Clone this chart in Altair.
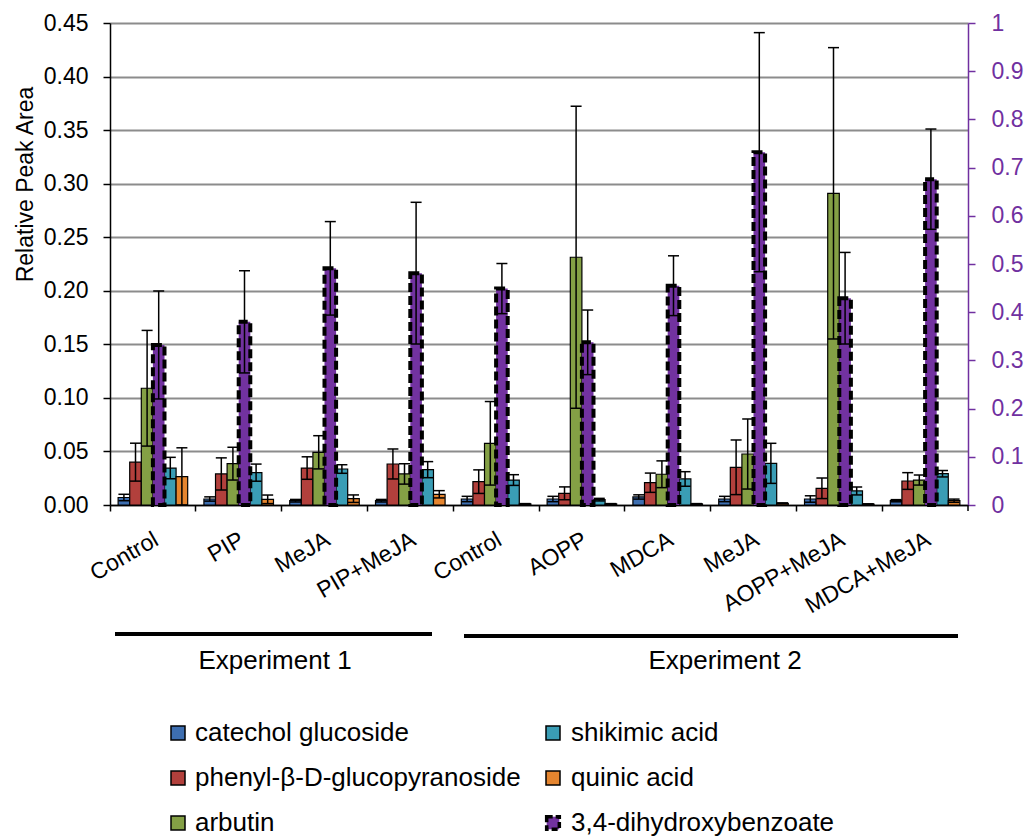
import json
import altair as alt
import pandas as pd

# ---------------- data ----------------
group_labels = ["Control", "PIP", "MeJA", "PIP+MeJA", "Control", "AOPP",
                "MDCA", "MeJA", "AOPP+MeJA", "MDCA+MeJA"]
group_keys = [f"g{i + 1}" for i in range(len(group_labels))]

s_cat = "catechol glucoside"
s_phe = "phenyl-β-D-glucopyranoside"
s_arb = "arbutin"
s_dhb = "3,4-dihydroxybenzoate"
s_shi = "shikimic acid"
s_qui = "quinic acid"

catechol = [0.007, 0.0056, 0.004, 0.004, 0.0056, 0.0056, 0.0075, 0.0056, 0.0056, 0.004]
catechol_err = [0.003, 0.002, 0.0012, 0.0012, 0.0025, 0.0025, 0.002, 0.0025, 0.003, 0.001]
phenyl = [0.040, 0.029, 0.0345, 0.0383, 0.0218, 0.0109, 0.0208, 0.0352, 0.0156, 0.0224]
phenyl_err = [0.0177, 0.015, 0.0105, 0.014, 0.011, 0.006, 0.009, 0.0255, 0.0096, 0.0078]
arbutin = [0.109, 0.0386, 0.0492, 0.029, 0.0576, 0.2313, 0.0287, 0.0476, 0.291, 0.0233]
arbutin_err = [0.054, 0.0153, 0.0155, 0.0095, 0.039, 0.141, 0.0125, 0.0327, 0.136, 0.0047]
dhb = [0.332, 0.380, 0.491, 0.481, 0.449, 0.3375, 0.455, 0.732, 0.429, 0.676]
dhb_err = [0.112, 0.106, 0.097, 0.147, 0.052, 0.067, 0.062, 0.248, 0.095, 0.104]
shikimic = [0.0345, 0.0302, 0.0336, 0.033, 0.0233, 0.005, 0.0243, 0.0389, 0.0131, 0.0292]
shikimic_err = [0.010, 0.008, 0.004, 0.0075, 0.005, 0.0012, 0.0068, 0.0187, 0.0037, 0.003]
quinic = [0.0264, 0.0053, 0.0059, 0.010, 0.001, 0.001, 0.001, 0.0015, 0.0008, 0.004]
quinic_err = [0.027, 0.004, 0.0035, 0.0034, 0.0003, 0.0003, 0.0003, 0.0005, 0.0003, 0.0015]

left_ticks = [0.0, 0.05, 0.10, 0.15, 0.20, 0.25, 0.30, 0.35, 0.40, 0.45]
right_ticks = [0.0, 0.1, 0.2, 0.3, 0.4, 0.5, 0.6, 0.7, 0.8, 0.9, 1.0]

# bar order inside each group
series_order = [s_cat, s_phe, s_arb, s_dhb, s_shi, s_qui]
series_colors = ["#3D6EB0", "#B2403C", "#84A045", "#7232A0", "#3A9DB5", "#E5852F"]
# legend layout: two columns, filled top to bottom
legend_order = [s_cat, s_phe, s_arb, s_shi, s_qui, s_dhb]

PURPLE = "#7030A0"
FONT = "Liberation Sans"

rows = []
for name, vals, errs in [(s_cat, catechol, catechol_err), (s_phe, phenyl, phenyl_err),
                         (s_arb, arbutin, arbutin_err), (s_dhb, dhb, dhb_err),
                         (s_shi, shikimic, shikimic_err), (s_qui, quinic, quinic_err)]:
    for k, v, e in zip(group_keys, vals, errs):
        rows.append({"group": k, "series": name, "value": v,
                     "lo": max(v - e, 0), "hi": v + e})
df = pd.DataFrame(rows)
left_df = df[df["series"] != s_dhb]
right_df = df[df["series"] == s_dhb]

# ---------------- encodings ----------------
label_expr = f"{json.dumps(group_labels)}[indexof({json.dumps(group_keys)}, datum.value)]"

x_enc = alt.X("group:N", title=None,
              scale=alt.Scale(domain=group_keys, paddingInner=0, paddingOuter=0),
              axis=alt.Axis(bandPosition=0, labelExpr=label_expr, labelAngle=330,
                            labelAlign="right", labelBaseline="top", labelOffset=-2,
                            labelPadding=17, labelFontSize=23, labelFont=FONT,
                            labelColor="black", labelOverlap=False, labelBound=False,
                            tickColor="black", tickSize=6, tickWidth=1.5,
                            domainColor="black", domainWidth=1.5, grid=False))
xo_enc = alt.XOffset("series:N",
                     scale=alt.Scale(domain=series_order, paddingInner=0, paddingOuter=0.7))
color_scale = alt.Scale(domain=series_order, range=series_colors)
color_enc = alt.Color("series:N", scale=color_scale, legend=None)

left_scale = alt.Scale(domain=[0, 0.45], nice=False, zero=True)
right_scale = alt.Scale(domain=[0, 1], nice=False, zero=True)

left_axis = alt.Axis(values=left_ticks, format=".2f", title="Relative Peak Area",
                     titleFontSize=23, titleFont=FONT, titleFontWeight="normal",
                     titleColor="black", titleAngle=270, titleX=-85, titleY=161,
                     titleAlign="center", titleBaseline="middle",
                     labelFontSize=23, labelFont=FONT, labelColor="black", labelPadding=15,
                     tickSize=7, tickColor="black", tickWidth=1.5,
                     domainColor="black", domainWidth=1.5,
                     grid=True, gridColor="#8c8c8c", gridWidth=2)
right_axis = alt.Axis(values=right_ticks, format="~g", title=None, orient="right",
                      labelFontSize=23, labelFont=FONT, labelColor=PURPLE, labelPadding=16,
                      tickSize=7, tickColor=PURPLE, tickWidth=1.5,
                      domainColor=PURPLE, domainWidth=1.5, grid=False)


def layer_for(data, scale, axis, bar_kwargs):
    title = "Relative Peak Area" if axis is left_axis else ""
    y_val = alt.Y("value:Q", scale=scale, axis=axis, title=title)
    bars = alt.Chart(data).mark_bar(**bar_kwargs).encode(
        x=x_enc, xOffset=xo_enc, y=y_val, color=color_enc)
    err = alt.Chart(data).mark_rule(color="black", strokeWidth=1.5).encode(
        x=x_enc, xOffset=xo_enc,
        y=alt.Y("lo:Q", scale=scale, axis=axis, title=title), y2="hi:Q")
    cap_hi = alt.Chart(data).mark_tick(color="black", thickness=1.5, size=11, opacity=1).encode(
        x=x_enc, xOffset=xo_enc, y=alt.Y("hi:Q", scale=scale, axis=axis, title=title))
    cap_lo = alt.Chart(data).mark_tick(color="black", thickness=1.5, size=11, opacity=1).encode(
        x=x_enc, xOffset=xo_enc, y=alt.Y("lo:Q", scale=scale, axis=axis, title=title))
    return alt.layer(bars, err, cap_hi, cap_lo)


left_layer = layer_for(left_df, left_scale, left_axis,
                       dict(stroke="black", strokeWidth=1.2, opacity=1))
right_layer = layer_for(right_df, right_scale, right_axis,
                        dict(stroke="black", strokeWidth=4, strokeDash=[9, 4], opacity=1))

# ---------------- legend (two columns, drawn as marks) ----------------
legend_df = pd.DataFrame({
    "series": legend_order,
    "idx": list(range(len(legend_order))),
})
legend_base = alt.Chart(legend_df).transform_calculate(
    col="floor(datum.idx / 3)", row="datum.idx % 3"
).transform_calculate(
    sx="68 + datum.col * 375", tx="85 + datum.col * 376", ly="710 + datum.row * 45"
)
leg_sym = legend_base.transform_filter(f"datum.series != '{s_dhb}'").mark_square(
    size=196, stroke="black", strokeWidth=1.5, opacity=1).encode(
    x=alt.X("sx:Q", scale=None, axis=None), y=alt.Y("ly:Q", scale=None, axis=None),
    color=color_enc)
leg_sym_dhb = legend_base.transform_filter(f"datum.series == '{s_dhb}'").mark_square(
    size=160, stroke="black", strokeWidth=3.5, strokeDash=[6, 3], opacity=1).encode(
    x=alt.X("sx:Q", scale=None, axis=None), y=alt.Y("ly:Q", scale=None, axis=None),
    color=color_enc)
leg_txt = legend_base.mark_text(align="left", baseline="middle", fontSize=26,
                                font=FONT, color="black").encode(
    x=alt.X("tx:Q", scale=None, axis=None), y=alt.Y("ly:Q", scale=None, axis=None),
    text="series:N")

# ---------------- annotations (experiment brackets) ----------------
dummy = pd.DataFrame({"k": [0]})
exp_labels = ["Experiment 1", "Experiment 2"]
annotations = [
    alt.Chart(dummy).mark_rule(color="black", strokeWidth=4).encode(
        x=alt.value(5), x2=alt.value(322), y=alt.value(611)),
    alt.Chart(dummy).mark_rule(color="black", strokeWidth=4).encode(
        x=alt.value(354), x2=alt.value(848), y=alt.value(613)),
    alt.Chart(pd.DataFrame({"t": [exp_labels[0]]})).mark_text(
        fontSize=26, font=FONT, color="black", align="center", baseline="middle").encode(
        text="t:N", x=alt.value(165), y=alt.value(638)),
    alt.Chart(pd.DataFrame({"t": [exp_labels[1]]})).mark_text(
        fontSize=26, font=FONT, color="black", align="center", baseline="middle").encode(
        text="t:N", x=alt.value(615), y=alt.value(638)),
    alt.Chart(dummy).mark_rule(color="black", strokeWidth=1.5).encode(
        x=alt.value(858), y=alt.value(482), y2=alt.value(488)),
]

chart = alt.layer(left_layer, right_layer, leg_sym, leg_sym_dhb, leg_txt,
                  *annotations).resolve_scale(
    y="independent"
).properties(
    width=858, height=482,
    autosize=alt.AutoSizeParams(type="none"),
    padding={"left": 110, "top": 23, "right": 58, "bottom": 334},
    background="white",
).configure_view(stroke=None).configure(font=FONT)

chart.save("out.html", embed_options={"renderer": "svg", "actions": False})
